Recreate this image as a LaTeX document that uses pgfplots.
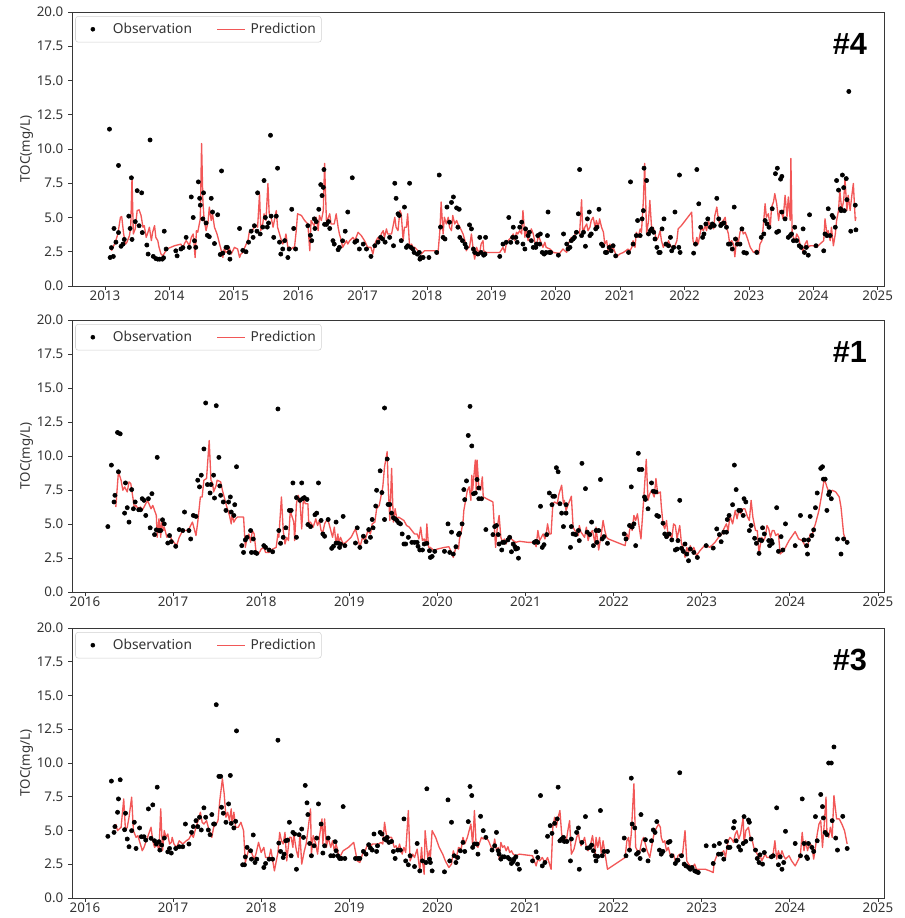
\documentclass[border=0pt]{standalone}
\usepackage{fontspec}
\setmainfont{Noto Sans}
\newfontfamily\labfont{Liberation Sans}
\usepackage{pgfplots}
\pgfplotsset{compat=1.18}
\definecolor{predred}{RGB}{240,64,64}
\definecolor{axgray}{RGB}{55,55,55}
\tikzset{plab/.style={font=\labfont\bfseries\fontsize{23}{25}\selectfont, text=black}}
\pgfplotsset{
  panel/.style={
    scale only axis, width=609pt,
    ymin=0, ymax=20, ytick={0,2.5,...,20},
    tick align=outside, major tick length=3pt,
    axis line style={axgray, line width=0.6pt},
    every tick/.style={axgray, line width=0.6pt},
    xtick pos=bottom, ytick pos=left,
    tick label style={font=\fontsize{10}{11}\selectfont, text=black!80},
    label style={font=\fontsize{10}{11}\selectfont, text=black!80},
    xticklabel style={yshift=3pt, /pgf/number format/.cd, fixed, precision=0, 1000 sep={}, assume math mode=true},
    yticklabel style={/pgf/number format/.cd, fixed, fixed zerofill, precision=1, assume math mode=true},
    ylabel={TOC(mg/L)},
    ylabel shift=-4pt,
    legend columns=2,
    legend style={at={(0.004,0.985)}, anchor=north west, draw=black!18, rounded corners=2pt,
      font=\fontsize{10.3}{11}\selectfont, text=black!80, inner xsep=2pt, inner ysep=3pt,
      /tikz/every even column/.append style={column sep=9pt}},
  },
  obs/.style={only marks, mark=*, mark size=1.6pt, black,
    legend image code/.code={\path[draw=none,fill=none] (0pt,0pt) rectangle (24pt,0pt); \fill[black] (11pt,0pt) circle (1.5pt);}},
  pred/.style={no marks, predred, opacity=0.88, line width=1pt, line join=round,
    legend image code/.code={\path[draw=none,fill=none] (0pt,0pt) rectangle (31pt,0pt); \draw[predred, opacity=0.88, line width=1pt] (8pt,0pt) -- (29pt,0pt);}},
}
\begin{document}
\begin{tikzpicture}
\path[use as bounding box] (0,0) rectangle (678.75pt,-688.5pt);
% ================= Panel #4 =================
\begin{axis}[panel, at={(54pt,-9pt)}, anchor=north west, height=205.5pt,
  xmin=2012.488, xmax=2025.096, xtick={2013,2014,...,2025}]
\addplot[obs] coordinates {
(2013.07,11.45)(2013.08,2.08)(2013.10,2.8)(2013.13,2.16)(2013.14,4.2)(2013.17,3.2)(2013.21,8.8)(2013.21,3.9)(2013.25,2.9)(2013.28,3.06)(2013.30,3.4)(2013.37,5.1)(2013.39,4.2)(2013.41,7.9)(2013.42,3.4)(2013.47,4.7)(2013.50,6.96)(2013.53,4.4)(2013.57,6.8)(2013.58,3.9)(2013.65,2.99)(2013.67,2.33)(2013.70,10.66)(2013.75,2.16)(2013.79,2.0)(2013.82,1.96)(2013.85,1.96)(2013.89,1.96)(2013.91,2.06)(2013.92,4.0)(2013.95,2.7)
(2014.10,2.57)(2014.12,2.2)(2014.18,2.7)(2014.21,2.8)(2014.26,3.55)(2014.31,2.82)(2014.34,6.5)(2014.37,5.0)(2014.39,3.3)(2014.41,2.82)(2014.45,7.6)(2014.47,6.4)(2014.48,5.9)(2014.52,4.9)(2014.53,6.8)(2014.57,4.6)(2014.59,3.7)(2014.62,3.6)(2014.65,6.4)(2014.67,5.4)(2014.70,3.1)(2014.75,5.2)(2014.79,2.3)(2014.81,8.4)(2014.83,2.4)(2014.88,2.82)(2014.90,2.82)(2014.93,2.45)(2014.94,1.96)
(2015.09,4.2)(2015.14,2.6)(2015.19,2.5)(2015.23,3.2)(2015.27,4.0)(2015.30,3.55)(2015.32,4.4)(2015.36,4.0)(2015.37,6.8)(2015.41,3.8)(2015.45,4.3)(2015.47,7.7)(2015.49,5.0)(2015.52,4.3)(2015.54,4.6)(2015.57,11.0)(2015.58,5.1)(2015.62,3.55)(2015.66,5.1)(2015.68,8.6)(2015.71,3.2)(2015.73,2.33)(2015.76,2.7)(2015.79,3.31)(2015.84,2.08)(2015.86,2.7)(2015.90,5.6)(2015.93,4.2)(2015.96,2.7)
(2016.15,4.4)(2016.19,3.7)(2016.21,3.31)(2016.25,4.9)(2016.26,4.2)(2016.28,4.7)(2016.32,5.6)(2016.35,7.4)(2016.37,6.6)(2016.39,7.2)(2016.40,8.5)(2016.41,4.5)(2016.44,4.5)(2016.47,4.7)(2016.49,4.2)(2016.54,3.31)(2016.56,3.06)(2016.62,2.65)(2016.64,2.82)(2016.69,3.3)(2016.73,4.0)(2016.77,5.4)(2016.84,7.9)(2016.88,3.2)(2016.91,3.3)(2016.95,2.7)
(2017.01,3.06)(2017.06,2.7)(2017.13,2.16)(2017.19,2.94)(2017.24,3.2)(2017.28,3.55)(2017.31,3.43)(2017.35,3.2)(2017.42,3.55)(2017.48,2.94)(2017.50,7.5)(2017.52,6.4)(2017.55,5.27)(2017.57,5.15)(2017.60,3.31)(2017.65,5.76)(2017.68,2.82)(2017.70,2.94)(2017.73,7.5)(2017.75,2.82)(2017.78,2.7)(2017.80,2.45)(2017.85,2.33)(2017.88,2.45)(2017.89,1.96)(2017.90,2.08)(2017.94,2.08)
(2018.03,2.08)(2018.15,2.45)(2018.19,8.1)(2018.21,4.3)(2018.25,3.55)(2018.28,3.43)(2018.31,5.76)(2018.35,4.66)(2018.38,6.1)(2018.41,6.5)(2018.46,5.7)(2018.48,4.29)(2018.50,5.6)(2018.51,3.55)(2018.55,3.31)(2018.59,3.06)(2018.61,2.82)(2018.66,4.46)(2018.69,4.17)(2018.72,2.7)(2018.74,2.45)(2018.79,2.33)(2018.82,3.55)(2018.84,2.45)(2018.88,2.25)(2018.90,2.33)(2018.91,3.55)
(2019.13,2.16)(2019.18,3.06)(2019.23,3.19)(2019.27,5.0)(2019.30,3.19)(2019.33,3.55)(2019.34,4.29)(2019.38,3.55)(2019.40,3.19)(2019.44,4.29)(2019.47,4.66)(2019.49,3.06)(2019.52,2.7)(2019.53,4.17)(2019.57,3.68)(2019.59,3.92)(2019.62,3.31)(2019.65,2.82)(2019.69,2.82)(2019.70,3.06)(2019.72,3.68)(2019.75,3.06)(2019.76,3.80)(2019.79,2.45)(2019.82,2.33)(2019.85,2.45)(2019.87,3.68)(2019.88,5.4)(2019.90,2.45)(2019.92,2.45)
(2020.04,2.25)(2020.12,3.8)(2020.17,3.06)(2020.19,2.7)(2020.22,2.82)(2020.24,3.31)(2020.27,3.43)(2020.29,3.55)(2020.32,3.92)(2020.35,5.27)(2020.37,8.5)(2020.40,3.68)(2020.43,3.92)(2020.46,2.9)(2020.49,4.9)(2020.52,5.4)(2020.53,3.68)(2020.55,3.8)(2020.62,4.17)(2020.64,4.29)(2020.67,5.6)(2020.71,3.06)(2020.73,2.94)(2020.77,2.45)(2020.79,2.45)(2020.83,2.82)(2020.86,2.57)(2020.89,2.94)(2020.93,2.2)
(2021.13,2.45)(2021.16,7.6)(2021.20,3.06)(2021.25,3.68)(2021.27,4.78)(2021.31,3.68)(2021.34,4.9)(2021.36,5.5)(2021.37,8.6)(2021.41,7.7)(2021.44,3.8)(2021.47,4.04)(2021.49,4.17)(2021.52,3.92)(2021.54,3.43)(2021.57,2.82)(2021.60,2.45)(2021.62,2.45)(2021.65,4.17)(2021.68,4.9)(2021.71,3.06)(2021.75,2.94)(2021.78,3.55)(2021.80,2.57)(2021.83,2.82)(2021.85,5.4)(2021.91,2.82)(2021.92,8.1)(2021.93,2.45)
(2022.14,2.4)(2022.17,3.06)(2022.19,8.5)(2022.22,6.0)(2022.25,4.29)(2022.28,3.55)(2022.30,3.80)(2022.33,4.53)(2022.36,4.9)(2022.40,4.29)(2022.43,4.53)(2022.46,4.41)(2022.50,6.4)(2022.53,4.9)(2022.56,4.41)(2022.58,4.53)(2022.61,4.6)(2022.65,4.29)(2022.68,3.06)(2022.71,3.06)(2022.74,2.7)(2022.77,5.76)(2022.79,3.43)(2022.82,3.06)(2022.86,3.06)(2022.89,4.17)(2022.92,2.45)(2022.96,2.4)
(2023.12,2.45)(2023.19,3.55)(2023.23,3.80)(2023.25,4.78)(2023.28,4.53)(2023.31,4.29)(2023.36,5.64)(2023.41,8.2)(2023.43,3.92)(2023.44,8.6)(2023.46,4.0)(2023.49,7.8)(2023.51,8.0)(2023.51,5.4)(2023.56,4.9)(2023.61,3.55)(2023.64,3.68)(2023.66,3.80)(2023.69,3.31)(2023.71,4.29)(2023.74,3.31)(2023.78,2.94)(2023.81,2.82)(2023.84,4.17)(2023.86,2.45)(2023.89,2.82)(2023.92,2.25)(2023.94,5.2)
(2024.04,2.94)(2024.16,2.57)(2024.18,3.8)(2024.21,3.68)(2024.23,5.64)(2024.26,3.68)(2024.29,5.15)(2024.31,5.0)(2024.34,4.29)(2024.36,7.7)(2024.39,7.0)(2024.42,5.64)(2024.43,5.5)(2024.45,8.1)(2024.47,7.18)(2024.48,5.5)(2024.51,7.84)(2024.52,6.3)(2024.55,14.2)(2024.58,4.0)(2024.65,5.9)(2024.66,4.1)
};
\addlegendentry{Observation}
\addplot[pred] coordinates {
(2013.10,2.57)(2013.16,3.19)(2013.20,3.80)(2013.24,5.02)(2013.26,5.07)(2013.29,3.80)(2013.32,3.06)(2013.34,3.19)(2013.38,3.68)(2013.40,4.29)(2013.42,7.92)(2013.44,3.80)(2013.47,4.17)(2013.50,5.51)(2013.53,5.56)(2013.56,5.15)(2013.59,4.29)(2013.61,4.41)(2013.64,3.55)(2013.66,3.80)(2013.69,4.29)(2013.72,3.31)(2013.74,3.92)(2013.77,4.41)(2013.79,3.55)(2013.82,3.31)(2013.84,2.82)(2013.87,2.33)(2013.90,2.21)(2013.93,2.45)(2013.96,2.70)
(2014.08,2.94)(2014.18,3.06)(2014.21,2.70)(2014.23,3.06)(2014.26,3.31)(2014.28,3.19)(2014.31,2.94)(2014.34,3.55)(2014.37,3.80)(2014.40,2.08)(2014.42,4.04)(2014.44,3.92)(2014.46,4.41)(2014.48,4.90)(2014.50,10.4)(2014.52,6.25)(2014.54,4.78)(2014.57,4.04)(2014.60,4.66)(2014.62,5.76)(2014.65,4.78)(2014.67,5.27)(2014.70,4.29)(2014.74,3.80)(2014.78,3.06)(2014.80,2.70)(2014.83,2.08)(2014.85,2.70)(2014.88,2.45)(2014.91,2.57)(2014.93,2.82)(2014.96,2.33)
(2015.01,2.82)(2015.06,2.70)(2015.09,2.08)(2015.11,2.33)(2015.14,2.45)(2015.17,2.82)(2015.22,3.31)(2015.24,3.92)(2015.27,3.92)(2015.32,4.29)(2015.35,4.41)(2015.37,4.29)(2015.40,6.74)(2015.42,4.04)(2015.45,4.53)(2015.47,5.27)(2015.50,4.78)(2015.53,7.48)(2015.55,5.27)(2015.58,5.02)(2015.61,4.29)(2015.63,4.78)(2015.66,5.51)(2015.68,4.29)(2015.71,3.80)(2015.74,3.31)(2015.76,3.06)(2015.79,3.31)(2015.81,3.80)(2015.84,2.82)(2015.87,2.82)(2015.89,2.70)(2015.92,2.82)(2015.94,2.70)(2015.97,4.04)(2015.99,5.27)
(2016.05,5.15)(2016.10,4.78)(2016.15,4.53)(2016.18,2.57)(2016.20,4.78)(2016.23,4.53)(2016.25,4.41)(2016.28,5.02)(2016.31,4.04)(2016.33,5.15)(2016.36,4.78)(2016.39,5.51)(2016.41,8.95)(2016.44,4.53)(2016.46,4.90)(2016.49,5.27)(2016.51,4.53)(2016.54,4.53)(2016.56,4.53)(2016.59,5.27)(2016.62,4.29)(2016.64,3.80)(2016.67,3.31)(2016.69,2.82)(2016.72,3.06)(2016.75,3.31)(2016.77,3.06)(2016.80,3.31)(2016.85,3.55)(2016.88,3.31)(2016.93,3.92)(2016.98,3.68)
(2017.03,3.31)(2017.08,2.82)(2017.13,2.82)(2017.16,2.33)(2017.19,3.06)(2017.21,3.31)(2017.24,3.55)(2017.26,3.31)(2017.29,3.80)(2017.32,4.04)(2017.34,3.55)(2017.37,4.17)(2017.39,3.80)(2017.45,3.80)(2017.50,5.02)(2017.52,4.29)(2017.55,4.04)(2017.58,5.51)(2017.60,5.27)(2017.63,3.31)(2017.65,4.29)(2017.68,4.29)(2017.70,5.27)(2017.73,2.82)(2017.76,3.06)(2017.78,2.82)(2017.81,2.82)(2017.86,2.57)(2017.91,2.33)(2017.96,2.57)
(2018.02,2.57)(2018.12,2.57)(2018.17,2.33)(2018.20,4.04)(2018.22,6.13)(2018.25,3.80)(2018.27,5.02)(2018.30,4.53)(2018.33,5.02)(2018.35,4.29)(2018.38,4.04)(2018.40,5.15)(2018.43,4.53)(2018.46,4.78)(2018.48,4.53)(2018.51,4.29)(2018.56,3.80)(2018.59,3.31)(2018.61,2.57)(2018.64,2.82)(2018.66,2.82)(2018.69,3.80)(2018.72,2.57)(2018.74,1.96)(2018.77,2.82)(2018.79,2.57)(2018.82,2.45)(2018.84,3.06)(2018.87,3.31)(2018.88,2.57)(2018.92,2.45)
(2019.03,2.45)(2019.13,2.45)(2019.18,2.82)(2019.21,2.45)(2019.23,3.06)(2019.26,3.31)(2019.28,3.43)(2019.31,3.55)(2019.34,3.80)(2019.36,3.31)(2019.39,3.92)(2019.41,3.80)(2019.44,4.04)(2019.47,3.80)(2019.49,5.51)(2019.52,3.55)(2019.54,4.29)(2019.57,3.31)(2019.60,3.80)(2019.62,4.17)(2019.65,3.80)(2019.67,3.31)(2019.70,2.82)(2019.73,3.80)(2019.75,3.43)(2019.78,3.06)(2019.80,2.82)(2019.83,3.19)(2019.85,2.82)(2019.91,2.70)(2019.96,2.45)
(2020.06,2.38)(2020.11,2.70)(2020.17,2.45)(2020.19,3.06)(2020.22,3.31)(2020.24,3.55)(2020.27,3.31)(2020.30,3.80)(2020.32,4.04)(2020.37,3.85)(2020.40,6.30)(2020.42,3.80)(2020.45,4.29)(2020.48,4.53)(2020.50,4.04)(2020.53,4.29)(2020.55,4.78)(2020.58,5.02)(2020.61,4.29)(2020.63,4.78)(2020.66,4.29)(2020.68,4.90)(2020.71,4.29)(2020.74,3.92)(2020.76,3.06)(2020.79,3.31)(2020.81,2.57)(2020.84,3.06)(2020.87,2.57)(2020.89,2.82)(2020.92,2.45)(2020.94,2.08)(2020.99,2.33)
(2021.05,2.45)(2021.10,2.62)(2021.12,2.70)(2021.15,2.57)(2021.18,2.82)(2021.20,3.31)(2021.23,2.82)(2021.25,3.92)(2021.28,3.55)(2021.31,4.17)(2021.33,3.92)(2021.36,6.25)(2021.38,8.95)(2021.41,3.80)(2021.44,4.78)(2021.46,6.25)(2021.49,4.04)(2021.51,4.29)(2021.54,3.92)(2021.56,3.31)(2021.59,3.55)(2021.62,4.04)(2021.64,3.31)(2021.67,2.82)(2021.69,3.06)(2021.72,2.94)(2021.75,3.31)(2021.77,3.06)(2021.80,2.82)(2021.82,2.70)(2021.85,2.94)(2021.88,3.31)(2021.90,4.17)(2021.95,4.41)
(2022.03,4.90)(2022.11,5.39)(2022.13,3.31)(2022.16,2.94)(2022.19,3.55)(2022.21,3.06)(2022.24,3.80)(2022.26,4.29)(2022.29,4.04)(2022.32,4.41)(2022.34,4.04)(2022.37,4.78)(2022.39,4.41)(2022.42,4.53)(2022.45,4.17)(2022.47,5.15)(2022.50,5.76)(2022.52,5.02)(2022.55,4.41)(2022.58,4.66)(2022.60,4.78)(2022.63,5.02)(2022.65,4.29)(2022.68,3.80)(2022.70,3.06)(2022.73,3.31)(2022.76,3.06)(2022.78,2.13)(2022.81,3.55)(2022.83,3.06)(2022.86,3.92)(2022.89,4.29)(2022.91,3.80)(2022.94,3.92)(2022.96,3.68)
(2023.02,2.82)(2023.07,2.45)(2023.12,2.62)(2023.15,2.33)(2023.17,3.06)(2023.20,3.31)(2023.22,4.29)(2023.25,6.00)(2023.27,5.02)(2023.30,5.27)(2023.33,4.29)(2023.35,5.76)(2023.38,6.13)(2023.40,6.74)(2023.43,6.00)(2023.46,4.78)(2023.48,5.51)(2023.51,5.27)(2023.53,4.90)(2023.56,6.62)(2023.59,5.02)(2023.61,6.50)(2023.64,4.78)(2023.65,9.31)(2023.67,3.80)(2023.69,3.55)(2023.72,3.31)(2023.74,3.80)(2023.77,3.55)(2023.79,3.06)(2023.82,2.82)(2023.84,2.45)(2023.87,3.06)(2023.90,3.31)(2023.92,2.82)(2023.95,2.94)
(2024.00,2.94)(2024.05,2.82)(2024.10,3.06)(2024.16,3.31)(2024.18,4.90)(2024.21,3.80)(2024.23,4.04)(2024.26,3.31)(2024.28,4.29)(2024.31,2.94)(2024.34,3.80)(2024.36,4.78)(2024.39,5.51)(2024.41,6.99)(2024.44,5.51)(2024.47,6.25)(2024.49,7.84)(2024.52,5.51)(2024.54,6.62)(2024.57,5.51)(2024.60,6.74)(2024.62,7.48)(2024.65,4.78)(2024.66,5.02)
};
\addlegendentry{Prediction}
\node[plab] at (rel axis cs:0.958,0.883) {\#4};
\end{axis}
% ================= Panel #1 =================
\begin{axis}[panel, at={(54pt,-240pt)}, anchor=north west, height=204pt,
  xmin=2015.853, xmax=2025.068, xtick={2016,2017,...,2025}]
\addplot[obs] coordinates {
(2016.26,4.81)(2016.30,9.33)(2016.33,6.62)(2016.34,7.11)(2016.37,11.73)(2016.38,8.84)(2016.40,11.63)(2016.45,5.80)(2016.46,8.02)(2016.48,6.20)(2016.50,5.14)(2016.53,7.53)(2016.55,6.12)(2016.57,6.62)(2016.61,6.05)(2016.63,6.05)(2016.65,6.86)(2016.67,6.74)(2016.69,5.63)(2016.72,6.86)(2016.74,4.72)(2016.76,7.23)(2016.79,4.22)(2016.81,4.57)(2016.82,9.90)(2016.84,4.52)(2016.86,4.52)(2016.88,5.31)(2016.90,5.01)(2016.94,3.60)(2016.96,4.15)(2016.98,3.70)
(2017.03,3.36)(2017.07,4.59)(2017.11,4.52)(2017.13,5.88)(2017.18,4.52)(2017.20,3.90)(2017.23,5.63)(2017.26,5.56)(2017.28,8.22)(2017.30,7.73)(2017.32,8.59)(2017.35,10.52)(2017.37,13.90)(2017.39,7.90)(2017.42,7.28)(2017.43,7.90)(2017.46,8.59)(2017.47,6.91)(2017.49,13.70)(2017.52,9.90)(2017.53,7.80)(2017.54,7.11)(2017.57,6.62)(2017.60,6.00)(2017.63,6.62)(2017.65,6.99)(2017.66,5.88)(2017.69,5.63)(2017.70,6.42)(2017.72,9.21)(2017.78,3.41)(2017.80,2.91)(2017.82,3.83)(2017.84,4.02)(2017.88,4.52)(2017.89,2.91)(2017.91,3.90)(2017.93,2.91)(2017.95,2.84)
(2018.03,3.41)(2018.05,3.28)(2018.09,3.09)(2018.13,2.96)(2018.19,13.46)(2018.20,4.52)(2018.22,3.58)(2018.25,4.02)(2018.28,4.72)(2018.32,6.00)(2018.34,6.00)(2018.36,8.02)(2018.40,4.02)(2018.40,6.94)(2018.44,6.74)(2018.46,8.02)(2018.47,6.86)(2018.49,6.94)(2018.52,6.81)(2018.53,4.96)(2018.56,4.81)(2018.61,5.68)(2018.63,5.80)(2018.65,8.02)(2018.68,5.26)(2018.70,4.27)(2018.72,4.10)(2018.76,5.33)(2018.80,3.21)(2018.82,3.36)(2018.85,5.14)(2018.85,3.60)(2018.87,3.60)(2018.89,3.28)(2018.90,3.53)(2018.93,5.56)(2018.95,3.41)
(2019.07,3.60)(2019.09,4.72)(2019.12,3.28)(2019.16,4.10)(2019.19,3.70)(2019.22,4.59)(2019.24,4.02)(2019.26,5.33)(2019.27,4.72)(2019.30,6.32)(2019.31,7.48)(2019.35,8.91)(2019.37,7.31)(2019.40,13.53)(2019.40,5.33)(2019.43,9.78)(2019.44,6.44)(2019.46,6.44)(2019.48,5.80)(2019.50,5.46)(2019.52,5.38)(2019.54,5.26)(2019.56,5.09)(2019.58,5.01)(2019.60,4.27)(2019.62,3.53)(2019.64,3.53)(2019.67,4.02)(2019.71,3.65)(2019.74,3.65)(2019.77,3.65)(2019.78,3.36)(2019.80,3.09)(2019.83,3.09)(2019.85,3.53)(2019.88,3.58)(2019.91,3.04)(2019.92,2.54)(2019.94,2.62)(2019.97,2.99)
(2020.08,2.99)(2020.12,5.01)(2020.14,2.91)(2020.16,4.40)(2020.18,2.79)(2020.21,3.33)(2020.24,4.22)(2020.25,4.32)(2020.28,5.01)(2020.30,7.53)(2020.31,6.79)(2020.33,8.17)(2020.35,11.51)(2020.37,13.65)(2020.39,10.74)(2020.41,7.23)(2020.43,7.28)(2020.45,8.27)(2020.47,7.65)(2020.47,6.86)(2020.50,6.86)(2020.55,4.59)
(2020.63,4.22)(2020.65,4.81)(2020.67,4.89)(2020.69,4.22)(2020.70,3.53)(2020.73,3.09)(2020.74,3.65)(2020.76,3.65)(2020.80,3.83)(2020.82,4.02)(2020.84,2.96)(2020.86,3.53)(2020.88,3.33)(2020.89,3.16)(2020.91,3.21)(2020.92,2.49)
(2021.10,3.65)(2021.12,3.73)(2021.14,3.65)(2021.17,6.30)(2021.19,3.28)(2021.21,3.48)(2021.24,4.22)(2021.27,7.28)(2021.30,6.42)(2021.31,7.04)(2021.33,7.04)(2021.35,9.14)(2021.37,8.84)(2021.39,6.49)(2021.41,5.80)(2021.43,4.81)(2021.46,6.42)(2021.46,5.80)(2021.51,3.28)(2021.52,4.81)(2021.54,4.27)(2021.57,4.22)(2021.60,4.52)(2021.61,3.78)(2021.64,9.46)(2021.68,7.60)(2021.70,4.40)(2021.73,4.22)(2021.75,5.14)(2021.77,3.41)(2021.80,4.52)(2021.81,3.65)(2021.83,4.52)(2021.85,8.27)(2021.87,3.90)(2021.89,4.07)(2021.93,3.58)
(2022.12,4.27)(2022.14,3.90)(2022.18,4.89)(2022.20,7.73)(2022.21,4.77)(2022.23,5.01)(2022.25,3.41)(2022.28,10.20)(2022.29,9.01)(2022.32,9.01)(2022.35,6.99)(2022.36,6.81)(2022.39,6.12)(2022.43,8.02)(2022.45,7.41)(2022.48,7.36)(2022.49,5.63)(2022.51,5.56)(2022.56,5.06)(2022.58,4.27)(2022.60,4.07)(2022.63,4.27)(2022.66,3.83)(2022.70,3.09)(2022.72,3.16)(2022.73,3.78)(2022.75,6.74)(2022.77,3.21)(2022.79,2.99)(2022.81,3.53)(2022.83,2.79)(2022.85,2.30)(2022.87,3.16)(2022.91,2.91)(2022.95,2.54)
(2023.05,3.41)(2023.13,3.23)(2023.17,4.64)(2023.20,4.22)(2023.22,3.70)(2023.25,4.40)(2023.28,4.40)(2023.29,5.33)(2023.31,5.63)(2023.35,6.42)(2023.37,9.33)(2023.39,7.53)(2023.42,6.00)(2023.44,6.00)(2023.47,5.63)(2023.48,6.86)(2023.50,6.62)(2023.54,4.52)(2023.56,4.89)(2023.60,3.95)(2023.62,3.58)(2023.65,2.84)(2023.66,3.83)(2023.68,3.78)(2023.69,4.72)(2023.71,4.27)(2023.76,3.78)(2023.77,3.41)(2023.79,3.78)(2023.80,3.58)(2023.85,6.20)(2023.87,2.99)(2023.90,4.07)(2023.92,3.09)(2023.95,5.01)
(2024.06,3.41)(2024.12,5.63)(2024.16,3.83)(2024.19,3.41)(2024.20,2.79)(2024.21,3.83)(2024.23,5.56)(2024.25,4.15)(2024.27,4.57)(2024.29,6.20)(2024.31,7.28)(2024.35,9.09)(2024.37,9.21)(2024.38,8.30)(2024.40,8.30)(2024.42,6.00)(2024.44,7.16)(2024.45,7.36)(2024.47,6.86)(2024.54,3.90)(2024.58,2.79)(2024.61,3.90)(2024.65,3.65)
};
\addlegendentry{Observation}
\addplot[pred] coordinates {
(2016.35,6.25)(2016.38,8.84)(2016.41,8.22)(2016.43,7.48)(2016.45,7.73)(2016.48,7.36)(2016.50,8.10)(2016.52,7.98)(2016.54,7.11)(2016.56,6.25)(2016.58,6.37)(2016.60,6.12)(2016.63,6.25)(2016.65,6.00)(2016.68,6.37)(2016.71,6.74)(2016.75,6.12)(2016.77,6.37)(2016.79,6.00)(2016.81,5.63)(2016.82,4.02)(2016.84,5.38)(2016.86,4.02)(2016.87,5.38)(2016.89,4.52)(2016.90,4.77)(2016.93,4.02)(2016.96,4.27)(2016.98,3.90)
(2017.01,3.65)(2017.04,3.41)(2017.07,4.02)(2017.11,4.52)(2017.15,4.52)(2017.18,4.64)(2017.22,5.14)(2017.26,4.15)(2017.28,5.14)(2017.31,6.99)(2017.33,6.99)(2017.35,8.22)(2017.38,8.35)(2017.41,11.14)(2017.43,8.22)(2017.45,7.98)(2017.46,7.36)(2017.49,7.85)(2017.50,8.22)(2017.54,8.10)(2017.56,7.48)(2017.59,6.74)(2017.61,6.25)(2017.64,5.63)(2017.66,5.01)(2017.67,5.75)(2017.69,5.14)(2017.71,5.38)(2017.73,5.51)(2017.77,5.51)(2017.80,5.51)(2017.82,3.28)(2017.84,4.02)(2017.86,4.27)(2017.88,3.65)(2017.90,4.52)(2017.92,4.27)(2017.94,3.04)(2017.97,2.79)
(2018.00,3.16)(2018.03,3.28)(2018.05,2.91)(2018.09,2.91)(2018.13,3.16)(2018.17,3.28)(2018.19,4.27)(2018.20,4.02)(2018.23,6.99)(2018.25,4.52)(2018.27,3.53)(2018.29,4.02)(2018.31,3.78)(2018.33,6.00)(2018.34,5.75)(2018.37,5.14)(2018.38,3.78)(2018.40,6.49)(2018.42,7.11)(2018.44,6.74)(2018.46,4.64)(2018.48,6.99)(2018.50,6.49)(2018.53,6.49)(2018.54,5.01)(2018.56,5.14)(2018.59,4.77)(2018.62,5.38)(2018.64,4.89)(2018.66,5.26)(2018.68,4.52)(2018.70,4.40)(2018.72,5.01)(2018.75,5.38)(2018.77,5.01)(2018.79,4.52)(2018.81,4.02)(2018.83,4.77)(2018.85,3.53)(2018.87,4.27)(2018.88,3.65)(2018.90,4.02)(2018.93,3.53)(2018.96,3.65)
(2019.02,4.02)(2019.07,4.64)(2019.10,3.90)(2019.12,3.28)(2019.15,4.02)(2019.18,3.78)(2019.21,4.52)(2019.24,4.27)(2019.26,5.01)(2019.29,5.14)(2019.31,6.12)(2019.34,6.37)(2019.38,7.73)(2019.40,9.21)(2019.43,10.32)(2019.44,7.98)(2019.46,5.26)(2019.48,9.09)(2019.50,5.14)(2019.52,6.12)(2019.54,5.38)(2019.56,5.51)(2019.59,5.38)(2019.62,5.26)(2019.65,4.89)(2019.68,4.77)(2019.71,4.52)(2019.74,4.27)(2019.77,4.27)(2019.79,3.90)(2019.81,4.77)(2019.83,3.78)(2019.85,3.90)(2019.87,3.53)(2019.88,5.01)(2019.90,3.28)(2019.92,3.28)(2019.96,3.04)
(2020.00,3.16)(2020.08,3.28)(2020.13,3.33)(2020.16,2.91)(2020.18,2.54)(2020.21,3.28)(2020.24,3.16)(2020.25,3.90)(2020.27,4.40)(2020.29,5.14)(2020.30,6.00)(2020.32,6.74)(2020.34,7.48)(2020.36,7.73)(2020.38,6.74)(2020.39,8.59)(2020.40,7.48)(2020.43,9.70)(2020.44,7.48)(2020.45,9.70)(2020.47,7.73)(2020.49,7.48)(2020.51,8.47)(2020.52,6.99)(2020.63,6.62)(2020.66,3.28)(2020.68,4.77)(2020.70,5.63)(2020.72,4.02)(2020.74,3.65)(2020.76,3.90)(2020.78,3.53)(2020.80,4.02)(2020.82,4.15)(2020.84,3.90)(2020.86,3.78)(2020.89,3.65)(2020.93,3.73)
(2021.03,3.65)(2021.10,3.65)(2021.12,3.33)(2021.14,4.52)(2021.16,3.78)(2021.18,4.02)(2021.20,4.27)(2021.22,3.90)(2021.24,4.52)(2021.25,5.01)(2021.27,4.27)(2021.29,4.27)(2021.31,6.49)(2021.33,6.62)(2021.36,6.49)(2021.38,7.23)(2021.41,7.85)(2021.43,6.49)(2021.44,6.74)(2021.46,6.00)(2021.48,6.37)(2021.52,7.04)(2021.54,4.77)(2021.57,4.40)(2021.60,4.15)(2021.61,4.89)(2021.63,4.40)(2021.67,4.02)(2021.69,4.77)(2021.71,3.78)(2021.73,4.27)(2021.76,4.52)(2021.79,3.53)(2021.80,4.77)(2021.83,3.09)(2021.86,4.27)(2021.88,5.26)(2021.90,4.52)(2021.92,4.02)(2021.94,3.90)
(2022.13,3.41)(2022.15,4.27)(2022.17,3.90)(2022.18,4.52)(2022.20,5.01)(2022.21,4.52)(2022.23,5.63)(2022.25,5.26)(2022.27,5.75)(2022.29,4.77)(2022.31,3.90)(2022.34,6.74)(2022.37,9.75)(2022.39,6.74)(2022.41,7.23)(2022.43,7.48)(2022.46,6.99)(2022.48,8.35)(2022.50,7.23)(2022.53,7.36)(2022.54,6.37)(2022.56,5.01)(2022.58,4.64)(2022.60,5.26)(2022.62,4.02)(2022.64,4.27)(2022.66,3.90)(2022.68,5.01)(2022.70,4.89)(2022.72,3.90)(2022.73,4.27)(2022.75,4.89)(2022.77,3.53)(2022.79,3.28)(2022.81,2.54)(2022.83,3.28)(2022.85,2.91)(2022.87,3.41)(2022.89,3.04)(2022.91,3.28)(2022.94,2.67)(2022.98,3.04)
(2023.04,3.48)(2023.09,3.28)(2023.15,3.65)(2023.19,4.02)(2023.23,4.27)(2023.25,4.64)(2023.28,5.01)(2023.30,4.52)(2023.32,5.63)(2023.35,5.01)(2023.38,6.00)(2023.40,5.38)(2023.42,6.00)(2023.44,5.75)(2023.47,6.12)(2023.49,6.12)(2023.52,5.51)(2023.54,5.26)(2023.56,6.74)(2023.58,5.51)(2023.61,4.52)(2023.63,4.52)(2023.65,2.79)(2023.66,3.28)(2023.68,4.02)(2023.70,3.78)(2023.72,4.02)(2023.74,4.89)(2023.76,4.64)(2023.78,4.02)(2023.80,4.52)(2023.82,4.52)(2023.84,4.15)(2023.86,4.27)(2023.87,4.27)(2023.89,2.79)(2023.93,3.04)(2023.99,3.78)
(2024.06,4.44)(2024.10,3.90)(2024.14,3.78)(2024.18,3.33)(2024.20,3.28)(2024.23,4.27)(2024.25,4.02)(2024.27,4.64)(2024.29,5.01)(2024.33,6.00)(2024.37,7.48)(2024.39,8.35)(2024.42,7.73)(2024.45,7.23)(2024.48,7.48)(2024.52,7.36)(2024.56,6.99)(2024.58,6.25)(2024.61,4.27)(2024.63,3.90)(2024.65,3.53)
};
\addlegendentry{Prediction}
\node[plab] at (rel axis cs:0.958,0.883) {\#1};
\end{axis}
% ================= Panel #3 =================
\begin{axis}[panel, at={(54pt,-471pt)}, anchor=north west, height=202.5pt,
  xmin=2015.853, xmax=2025.068, xtick={2016,2017,...,2025}]
\addplot[obs] coordinates {
(2016.26,4.57)(2016.30,8.66)(2016.33,4.86)(2016.34,5.29)(2016.37,6.35)(2016.38,7.34)(2016.40,8.76)(2016.45,5.06)(2016.46,6.28)(2016.48,4.37)(2016.50,3.80)(2016.53,4.99)(2016.56,5.61)(2016.58,3.67)(2016.62,5.19)(2016.64,4.54)(2016.67,4.54)(2016.69,4.29)(2016.72,6.60)(2016.75,4.42)(2016.77,6.90)(2016.79,4.24)(2016.81,4.00)(2016.82,8.21)(2016.84,4.17)(2016.85,3.55)(2016.87,3.92)(2016.90,4.44)(2016.94,3.42)(2016.96,3.67)(2016.98,3.33)
(2017.03,3.67)(2017.07,3.80)(2017.11,3.80)(2017.14,5.48)(2017.18,4.00)(2017.21,4.86)(2017.23,5.29)(2017.26,5.73)(2017.28,5.29)(2017.30,5.98)(2017.32,5.04)(2017.35,6.68)(2017.37,5.98)(2017.40,5.04)(2017.42,4.69)(2017.44,6.18)(2017.46,5.48)(2017.47,5.48)(2017.49,14.32)(2017.52,9.01)(2017.54,9.01)(2017.55,6.72)(2017.57,6.28)(2017.60,5.61)(2017.63,6.97)(2017.65,9.08)(2017.66,5.53)(2017.69,5.19)(2017.71,5.68)(2017.72,12.38)(2017.79,2.46)(2017.81,2.46)(2017.82,3.05)(2017.84,3.75)(2017.88,3.50)(2017.89,2.88)(2017.91,4.67)(2017.93,2.63)(2017.95,2.88)
(2018.03,2.26)(2018.05,2.56)(2018.09,2.88)(2018.13,2.88)(2018.19,11.69)(2018.20,4.07)(2018.22,3.45)(2018.25,3.00)(2018.26,3.25)(2018.28,4.24)(2018.30,4.29)(2018.32,5.61)(2018.34,3.13)(2018.36,4.86)(2018.38,4.74)(2018.40,2.13)(2018.43,4.69)(2018.46,5.11)(2018.48,4.49)(2018.50,8.34)(2018.52,7.05)(2018.53,6.18)(2018.55,4.04)(2018.57,3.13)(2018.60,3.87)(2018.63,4.44)(2018.65,6.97)(2018.68,5.48)(2018.70,3.33)(2018.72,3.87)(2018.76,4.44)(2018.79,3.13)(2018.82,3.13)(2018.84,4.17)(2018.85,3.50)(2018.87,3.13)(2018.89,2.93)(2018.91,2.93)(2018.93,6.77)(2018.95,2.93)
(2019.07,2.93)(2019.10,2.93)(2019.12,2.93)(2019.16,3.45)(2019.19,3.25)(2019.22,3.95)(2019.24,3.70)(2019.26,3.55)(2019.28,4.74)(2019.31,3.45)(2019.32,3.87)(2019.35,4.86)(2019.37,4.74)(2019.40,4.37)(2019.42,4.29)(2019.43,4.49)(2019.45,4.12)(2019.48,4.19)(2019.50,3.45)(2019.52,2.93)(2019.55,3.55)(2019.58,3.55)(2019.62,5.86)(2019.64,2.75)(2019.67,2.46)(2019.69,3.13)(2019.74,2.33)(2019.77,4.04)(2019.80,2.01)(2019.83,2.75)(2019.87,2.63)(2019.88,8.09)(2019.91,2.88)(2019.92,2.63)(2019.94,2.01)
(2020.08,1.94)(2020.12,7.27)(2020.14,2.75)(2020.16,5.61)(2020.19,3.13)(2020.21,2.63)(2020.23,3.00)(2020.26,3.50)(2020.29,4.12)(2020.31,3.45)(2020.35,5.66)(2020.37,8.26)(2020.39,7.59)(2020.40,3.75)(2020.42,4.00)(2020.45,4.00)(2020.46,3.25)(2020.49,6.05)(2020.52,4.99)(2020.55,4.49)(2020.62,3.55)(2020.65,3.87)(2020.67,4.86)(2020.69,3.50)(2020.70,3.25)(2020.72,2.88)(2020.74,3.05)(2020.76,3.05)(2020.80,3.00)(2020.82,2.88)(2020.84,2.56)(2020.86,2.70)(2020.87,2.88)(2020.89,3.05)(2020.91,2.51)(2020.93,2.13)
(2021.08,2.75)(2021.12,3.42)(2021.14,3.00)(2021.17,7.59)(2021.19,2.38)(2021.22,2.63)(2021.25,4.57)(2021.28,5.36)(2021.30,4.79)(2021.33,5.53)(2021.36,5.86)(2021.37,8.21)(2021.39,4.24)(2021.41,4.37)(2021.43,4.49)(2021.44,4.19)(2021.47,4.19)(2021.51,2.75)(2021.52,4.37)(2021.58,4.86)(2021.60,5.19)(2021.61,2.13)(2021.64,4.12)(2021.68,6.03)(2021.70,3.70)(2021.73,3.75)(2021.75,3.92)(2021.77,3.50)(2021.79,3.13)(2021.80,2.75)(2021.82,3.08)(2021.85,6.48)(2021.87,3.13)(2021.89,3.45)(2021.93,3.45)
(2022.12,4.44)(2022.14,3.13)(2022.18,3.55)(2022.20,8.88)(2022.21,5.48)(2022.24,5.19)(2022.26,3.25)(2022.28,3.37)(2022.30,2.93)(2022.31,6.18)(2022.34,3.55)(2022.36,4.32)(2022.39,2.75)(2022.43,4.24)(2022.45,5.04)(2022.47,4.86)(2022.49,5.66)(2022.52,3.55)(2022.54,3.25)(2022.56,3.45)(2022.62,4.12)(2022.64,4.19)(2022.66,3.13)(2022.70,2.56)(2022.72,2.80)(2022.73,2.80)(2022.75,9.28)(2022.77,3.13)(2022.80,2.51)(2022.82,2.38)(2022.85,2.26)(2022.87,2.13)(2022.89,2.26)(2022.92,2.01)(2022.94,1.94)(2022.96,1.89)
(2023.05,3.87)(2023.13,2.56)(2023.14,3.87)(2023.19,3.25)(2023.20,4.04)(2023.22,3.25)(2023.25,2.88)(2023.28,4.19)(2023.30,3.75)(2023.32,3.75)(2023.36,5.19)(2023.37,5.66)(2023.39,4.24)(2023.42,3.80)(2023.44,3.55)(2023.47,4.04)(2023.48,6.03)(2023.50,4.19)(2023.53,5.78)(2023.54,5.61)(2023.56,4.37)(2023.61,3.55)(2023.63,2.93)(2023.65,2.63)(2023.66,3.20)(2023.69,2.51)(2023.71,3.37)(2023.79,3.05)(2023.81,3.13)(2023.85,6.68)(2023.87,2.46)(2023.89,3.05)(2023.91,2.13)(2023.93,2.63)(2023.95,4.94)
(2024.06,4.04)(2024.12,3.13)(2024.14,7.34)(2024.16,4.04)(2024.19,3.05)(2024.20,2.93)(2024.21,4.04)(2024.25,3.75)(2024.27,3.45)(2024.29,6.03)(2024.31,4.24)(2024.35,7.67)(2024.37,6.77)(2024.38,5.93)(2024.40,4.86)(2024.42,4.69)(2024.44,10.00)(2024.47,10.00)(2024.48,5.73)(2024.50,11.19)(2024.52,4.44)(2024.54,3.55)(2024.60,6.05)(2024.65,3.67)
};
\addlegendentry{Observation}
\addplot[pred] coordinates {
(2016.35,5.48)(2016.37,4.99)(2016.41,5.24)(2016.44,7.34)(2016.46,4.99)(2016.48,5.24)(2016.50,5.98)(2016.53,7.47)(2016.55,4.99)(2016.58,4.49)(2016.60,4.62)(2016.64,3.75)(2016.65,3.50)(2016.67,3.75)(2016.71,4.49)(2016.75,5.24)(2016.77,4.24)(2016.79,3.75)(2016.82,4.00)(2016.84,3.50)(2016.86,6.60)(2016.88,3.50)(2016.90,4.99)(2016.92,4.49)(2016.94,4.74)(2016.96,4.00)(2016.98,4.12)(2016.99,4.49)
(2017.01,4.00)(2017.04,3.75)(2017.07,4.24)(2017.11,4.00)(2017.15,4.24)(2017.18,4.37)(2017.21,4.74)(2017.23,4.49)(2017.26,5.24)(2017.29,5.86)(2017.31,6.35)(2017.33,5.61)(2017.35,5.48)(2017.38,5.73)(2017.41,4.99)(2017.44,4.49)(2017.46,5.24)(2017.49,5.48)(2017.51,5.73)(2017.53,7.22)(2017.56,8.83)(2017.58,7.72)(2017.60,5.98)(2017.62,6.35)(2017.64,5.73)(2017.66,6.60)(2017.67,5.48)(2017.69,6.35)(2017.71,5.24)(2017.74,5.24)(2017.77,5.61)(2017.80,4.99)(2017.82,2.63)(2017.84,3.13)(2017.86,3.62)(2017.89,3.37)(2017.92,2.88)(2017.94,3.25)(2017.97,4.12)
(2018.00,3.37)(2018.03,3.75)(2018.05,3.00)(2018.09,3.00)(2018.11,3.62)(2018.15,2.01)(2018.19,3.37)(2018.21,4.86)(2018.23,4.24)(2018.25,4.00)(2018.27,4.86)(2018.29,2.75)(2018.32,4.49)(2018.34,4.49)(2018.36,3.75)(2018.37,4.74)(2018.40,3.50)(2018.42,3.00)(2018.44,4.74)(2018.46,2.51)(2018.49,3.50)(2018.51,4.00)(2018.53,4.99)(2018.56,6.60)(2018.57,3.25)(2018.59,4.62)(2018.62,4.00)(2018.64,3.25)(2018.66,4.49)(2018.69,5.86)(2018.70,4.00)(2018.72,5.86)(2018.74,3.75)(2018.76,4.49)(2018.79,3.75)(2018.81,4.24)(2018.83,3.50)(2018.85,4.00)(2018.87,3.50)(2018.88,2.88)(2018.90,3.13)(2018.93,3.50)(2018.99,3.75)
(2019.05,4.12)(2019.09,2.75)(2019.12,2.63)(2019.15,3.25)(2019.18,3.50)(2019.21,4.00)(2019.24,3.75)(2019.26,4.00)(2019.30,4.00)(2019.33,4.00)(2019.36,4.12)(2019.38,4.00)(2019.40,5.61)(2019.43,4.24)(2019.45,4.49)(2019.48,4.49)(2019.51,3.75)(2019.53,3.87)(2019.55,3.50)(2019.57,4.00)(2019.60,3.25)(2019.62,3.75)(2019.64,3.37)(2019.67,6.48)(2019.69,2.75)(2019.72,3.25)(2019.74,3.00)(2019.77,3.62)(2019.80,2.01)(2019.82,3.75)(2019.83,2.75)(2019.85,1.76)(2019.86,4.99)(2019.89,3.00)(2019.91,3.50)(2019.92,3.00)(2019.94,4.99)(2019.98,4.49)
(2020.02,3.75)(2020.06,3.25)(2020.09,2.75)(2020.13,2.26)(2020.16,2.51)(2020.18,3.50)(2020.21,2.88)(2020.24,3.75)(2020.27,3.62)(2020.29,4.49)(2020.31,4.00)(2020.34,4.49)(2020.36,4.99)(2020.38,5.48)(2020.40,3.87)(2020.42,6.48)(2020.44,3.87)(2020.46,3.75)(2020.50,4.49)(2020.52,4.37)(2020.55,4.49)(2020.58,4.24)(2020.61,3.75)(2020.63,3.62)(2020.65,4.37)(2020.67,3.50)(2020.69,3.75)(2020.70,2.88)(2020.72,4.12)(2020.74,3.75)(2020.76,3.87)(2020.78,3.50)(2020.80,3.80)(2020.82,3.37)(2020.84,3.50)(2020.86,3.25)(2020.89,3.13)(2020.93,3.25)(2020.99,3.20)
(2021.08,3.13)(2021.12,2.38)(2021.14,2.88)(2021.16,2.75)(2021.19,3.00)(2021.22,2.63)(2021.25,3.00)(2021.29,2.13)(2021.31,5.24)(2021.33,5.98)(2021.35,5.24)(2021.37,5.98)(2021.39,6.48)(2021.41,4.74)(2021.43,4.24)(2021.44,4.49)(2021.46,4.12)(2021.48,4.99)(2021.50,5.73)(2021.52,3.25)(2021.55,3.62)(2021.58,4.49)(2021.60,4.86)(2021.61,4.37)(2021.63,3.87)(2021.65,4.12)(2021.67,4.49)(2021.69,3.75)(2021.71,3.50)(2021.73,3.75)(2021.76,4.62)(2021.79,3.25)(2021.80,4.49)(2021.82,3.75)(2021.84,4.49)(2021.86,3.25)(2021.88,4.24)(2021.90,3.37)(2021.93,2.13)
(2022.13,3.00)(2022.15,4.24)(2022.17,4.49)(2022.18,3.50)(2022.20,4.74)(2022.23,8.46)(2022.25,3.75)(2022.27,3.50)(2022.29,3.25)(2022.32,4.24)(2022.34,4.49)(2022.36,4.00)(2022.38,3.50)(2022.41,3.00)(2022.43,3.75)(2022.45,4.49)(2022.47,4.99)(2022.49,5.24)(2022.51,5.48)(2022.53,5.24)(2022.54,4.49)(2022.56,4.12)(2022.58,4.24)(2022.60,3.50)(2022.62,3.75)(2022.64,3.25)(2022.66,3.00)(2022.68,3.25)(2022.70,2.75)(2022.72,2.88)(2022.73,3.13)(2022.75,3.25)(2022.78,3.13)(2022.81,4.99)(2022.83,2.75)(2022.85,2.51)(2022.89,2.26)(2022.92,2.51)(2022.94,2.13)(2022.98,2.13)
(2023.04,2.13)(2023.09,2.01)(2023.13,1.89)(2023.14,2.63)(2023.17,3.13)(2023.20,3.25)(2023.23,3.37)(2023.25,3.50)(2023.27,3.00)(2023.28,3.50)(2023.30,4.24)(2023.32,4.49)(2023.34,4.37)(2023.36,4.12)(2023.38,4.74)(2023.40,4.99)(2023.42,4.37)(2023.44,4.74)(2023.47,5.98)(2023.48,4.00)(2023.50,4.99)(2023.53,5.24)(2023.55,4.49)(2023.57,4.37)(2023.59,3.75)(2023.61,3.50)(2023.63,3.25)(2023.65,3.00)(2023.66,3.25)(2023.68,2.75)(2023.70,3.00)(2023.72,3.25)(2023.74,3.00)(2023.76,3.00)(2023.78,3.13)(2023.81,3.25)(2023.83,4.24)(2023.85,2.88)(2023.87,3.50)(2023.89,3.00)(2023.91,3.50)(2023.93,3.13)(2023.95,2.88)(2023.99,3.13)
(2024.02,2.75)(2024.06,2.38)(2024.10,2.88)(2024.12,3.25)(2024.14,4.86)(2024.16,3.50)(2024.18,4.24)(2024.20,3.50)(2024.21,3.75)(2024.23,4.00)(2024.25,3.87)(2024.27,2.88)(2024.29,3.75)(2024.31,4.74)(2024.33,5.48)(2024.35,5.73)(2024.37,3.75)(2024.39,5.48)(2024.41,7.47)(2024.42,4.99)(2024.44,4.49)(2024.46,5.24)(2024.48,4.49)(2024.50,7.59)(2024.53,5.86)(2024.56,5.86)(2024.59,5.48)(2024.62,4.99)(2024.65,4.00)
};
\addlegendentry{Prediction}
\node[plab] at (rel axis cs:0.958,0.883) {\#3};
\end{axis}
\end{tikzpicture}
\end{document}
